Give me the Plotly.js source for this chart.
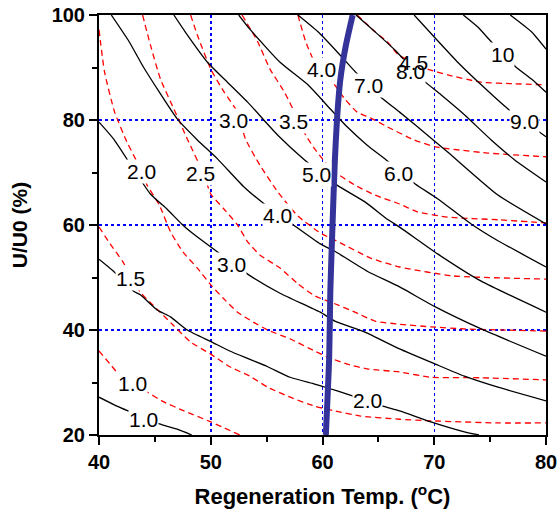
<!DOCTYPE html>
<html><head><meta charset="utf-8">
<script src="https://cdn.plot.ly/plotly-3.0.1.min.js"></script>
<style>html,body{margin:0;padding:0;background:#fff}#chart{width:560px;height:513px}</style>
</head><body><div id="chart"></div>
<script>
// Black solid contour lines
const b1X=[40,41.6,42.8,44.1,45.4,47.0,48.3];
const b1Y=[27.2,25.5,24.4,23.2,22.1,21.1,20];
const b2X=[40.0,41.3,43.1,43.7,45.2,46.4,47.9,50.1,51.7,53.4,55.1,57.1,59.3,60.4,62.2,65.4,66.9,69.7,72.7,74.0];
const b2Y=[53.5,51.2,47.4,46.7,43.8,42.5,40.0,37.7,36.0,34.5,33.0,31.0,29.7,29.0,27.8,25.5,24.6,22.5,20.6,20.0];
const b3X=[40,41.3,44.6,46.1,47.4,48.2,50.7,53.4,56.2,59.8,61.1,63.8,66.9,70.1,72.7,75.7,80];
const b3Y=[79.6,76.4,65.9,63.0,60.2,58.7,54.7,50.5,47.0,43.4,41.7,39.6,36.4,33.5,31.2,29.1,26.5];
const b4X=[41.1,42.7,44.0,47.0,48.8,50.6,53.0,54.8,57.4,59.8,61.1,64.0,66.9,70.1,74.2,80];
const b4Y=[100,94.9,90.0,80.2,76.2,72.6,67.2,64.0,60.0,56.4,55.0,51.2,48.2,44.4,40.2,35.0];
const b5X=[46.7,47.9,49.7,51.2,53.3,56.0,58.4,61.3,63.8,65.8,66.9,70.3,74.2,80];
const b5Y=[100,96.2,91.0,87.8,83.4,77.1,72.4,67.6,64.4,61.1,59.6,54.5,49.3,43.4];
const b6X=[52.5,53.5,56.2,58.7,60.7,62.2,64.0,65.7,68.3,70.3,73.3,75.7,80];
const b6Y=[100,97.3,91.0,86.7,82.1,78.7,75.2,72.4,67.8,65.0,60.2,57.0,52.0];
const b7X=[57.8,59.6,61.3,63.1,65.2,66.9,68.5,71.2,75.7,80];
const b7Y=[100,96.8,93.0,88.8,84.4,81.5,78.7,73.9,65.7,60.2];
const b8X=[63.0,64.7,66.5,69.0,70.6,72.7,75.1,77.2,80];
const b8Y=[100,96.8,93.3,87.6,84.8,81.0,76.2,72.4,68.2];
const b9X=[68.2,70.0,72.1,74.2,76.6,80];
const b9Y=[100,95.8,91.0,86.7,82.1,76.8];
const b10X=[72.6,73.9,75.1,77.3,78.7,80];
const b10Y=[100,97.7,94.9,90.1,87.8,85.3];
const b11X=[76.8,78.7,80];
const b11Y=[100,96.8,93.5];

// Red dashed contour lines
const r1X=[40,41.0,41.6,44.3,45.8,47.6,50.0,52.6];
const r1Y=[36.0,33.5,32.0,28.2,26.3,24.6,22.5,20.0];
const r2X=[40,41.0,42.1,43.7,44.8,46.6,48.2,50.0,51.7,53.5,55.1,57.1,59.3,61.1,63.4,66.9,69.7,75.7,80];
const r2Y=[59.6,56.4,53.1,47.2,44.8,41.0,37.7,35.4,33.0,31.2,29.1,27.2,25.5,24.6,23.6,23.0,22.7,22.3,22.3];
const r3X=[40,40.5,41.4,42.5,43.4,44.3,45.4,46.4,47.5,48.8,50.0,51.1,52.4,53.8,55.1,57.1,59.3,60.4,62.2,64.0,66.9,69.7,74.2,80];
const r3Y=[97.2,89.1,81.5,75.8,72.0,67.6,63.8,58.7,54.9,51.8,48.6,46.1,43.4,41.5,40.0,38.3,36.0,34.9,33.5,32.6,32.0,31.0,30.9,30.5];
const r4X=[43.9,44.6,45.5,46.7,47.9,49.4,50.0,51.2,52.4,53.3,54.4,56.2,57.8,59.3,61.1,62.9,64.7,66.9,69.7,72.7,80];
const r4Y=[100,94.3,87.8,82.1,76.4,69.5,65.9,63.0,60.0,56.8,54.3,51.8,48.8,46.5,45.0,43.4,41.7,41.1,40.6,40.2,39.8];
const r5X=[48.2,48.8,50.0,51.2,52.4,53.1,54.4,56.0,57.8,59.8,61.6,64.3,66.9,71.7,80];
const r5Y=[100,96.2,89.7,85.3,81.5,76.4,71.4,66.3,61.7,58.5,56.6,53.7,52.0,50.3,49.7];
const r6X=[52.8,54.2,55.3,56.6,58.5,59.3,60.0,61.1,62.9,64.7,66.9,68.5,71.2,75.7,80];
const r6Y=[100,94.9,89.7,85.3,77.1,74.5,72.6,70.1,67.6,65.7,64.0,62.5,61.5,61.0,60.4];
const r7X=[57.8,58.5,59.3,60.7,62.0,63.1,64.3,65.8,68.2,70.1,74.8,80];
const r7Y=[100,94.9,91.0,87.8,84.0,81.5,80.4,78.7,76.2,74.9,73.7,73.0];
const r8X=[63.1,64.7,65.8,66.8,69.4,71.2,74.2,77.2,80];
const r8Y=[100,96.8,94.9,92.4,89.7,88.6,87.2,86.9,86.7];

// Thick blue line
const blueX=[62.7,62.1,61.6,61.3,61.1,60.9,60.7,60.6,60.3];
const blueY=[100,94.3,87.8,80.2,72.0,60.2,47.4,34.9,20];

// Contour labels
const labelText=["8.0","1.0","1.5","2.0","2.0","3.0","4.0","5.0","6.0","7.0","9.0","10","1.0","2.5","3.0","3.5","4.0","4.5"];
const labelX=[67.9,44.0,42.8,64.0,43.8,51.9,56.0,59.5,66.8,64.1,78.1,76.1,43.0,49.1,52.0,57.4,59.9,68.1];
const labelY=[89.3,23.0,49.9,26.5,70.1,52.4,61.9,69.7,69.9,86.5,79.8,92.4,29.9,69.9,80.0,79.8,89.7,91.0];

const blackSets=[[b1X,b1Y],[b2X,b2Y],[b3X,b3Y],[b4X,b4Y],[b5X,b5Y],[b6X,b6Y],[b7X,b7Y],[b8X,b8Y],[b9X,b9Y],[b10X,b10Y],[b11X,b11Y]];
const redSets=[[r1X,r1Y],[r2X,r2Y],[r3X,r3Y],[r4X,r4Y],[r5X,r5Y],[r6X,r6Y],[r7X,r7Y],[r8X,r8Y]];

const traces=[];
redSets.forEach(s=>traces.push({x:s[0],y:s[1],mode:'lines',type:'scatter',hoverinfo:'skip',
  line:{color:'#ff0000',width:1.3,dash:'6px,4px',shape:'spline',smoothing:0.5}}));
blackSets.forEach(s=>traces.push({x:s[0],y:s[1],mode:'lines',type:'scatter',hoverinfo:'skip',
  line:{color:'#000000',width:1.3,shape:'spline',smoothing:0.5}}));
traces.push({x:blueX,y:blueY,mode:'lines',type:'scatter',hoverinfo:'skip',
  line:{color:'#333399',width:6,shape:'spline',smoothing:0.6}});

const FONT='Arial, "Liberation Sans", sans-serif';
const annotations=labelText.map((t,i)=>({x:labelX[i],y:labelY[i],xref:'x',yref:'y',text:t,showarrow:false,
  font:{family:FONT,size:21,color:'#000'},bgcolor:(i===17)?'rgba(0,0,0,0)':'#ffffff',borderpad:0}));

const layout={
  width:560,height:513,showlegend:false,
  paper_bgcolor:'#fff',plot_bgcolor:'#fff',
  margin:{l:99,r:14,t:15,b:78},
  font:{family:FONT,color:'#000'},
  xaxis:{range:[40,80],dtick:10,tick0:40,ticks:'outside',ticklen:8,tickwidth:2,tickcolor:'#000',
    minor:{dtick:5,ticks:'outside',ticklen:5,tickwidth:2,tickcolor:'#000',showgrid:false},
    showline:true,linecolor:'#000',linewidth:2,mirror:true,
    showgrid:true,gridcolor:'#0000ff',gridwidth:1.5,griddash:'dot',zeroline:false,
    tickfont:{family:FONT,size:20,weight:'bold',color:'#000'},
    title:{text:'Regeneration Temp. (<sup>o</sup>C)',font:{family:FONT,size:22,weight:'bold',color:'#000'},standoff:17}},
  yaxis:{range:[20,100],dtick:20,tick0:20,ticks:'outside',ticklen:8,tickwidth:2,tickcolor:'#000',
    minor:{dtick:10,ticks:'outside',ticklen:5,tickwidth:2,tickcolor:'#000',showgrid:false},
    showline:true,linecolor:'#000',linewidth:2,mirror:true,
    showgrid:true,gridcolor:'#0000ff',gridwidth:1.5,griddash:'dot',zeroline:false,
    tickfont:{family:FONT,size:20,weight:'bold',color:'#000'},
    title:{text:'U/U0 (%)',font:{family:FONT,size:21,weight:'bold',color:'#000'},standoff:18}},
  annotations:annotations
};
Plotly.newPlot('chart',traces,layout,{staticPlot:true,displayModeBar:false});
</script></body></html>
